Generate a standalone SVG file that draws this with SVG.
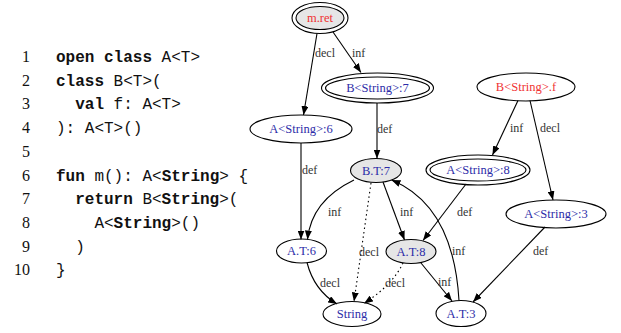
<svg xmlns="http://www.w3.org/2000/svg" width="621" height="333" viewBox="0 0 621 333">
  <style>
    .ln { font-family: "Liberation Serif", serif; font-size: 16px; fill: #111; text-anchor: end; }
    .code { font-family: "Liberation Mono", monospace; font-size: 16px; fill: #111; }
    .kw { font-weight: bold; }
    .node ellipse { fill: none; stroke: #000; stroke-width: 1.1; }
    .node ellipse.filled { fill: #e6e6e6; }
    .node text { font-family: "Liberation Serif", serif; font-size: 12.5px; text-anchor: middle; fill: #2c2ca8; }
    .node text.red { fill: #f03232; }
    .edges path { fill: none; stroke: #000; stroke-width: 1.1; marker-end: url(#arrow); }
    .edges path.dot { stroke-dasharray: 1.5 3; }
    .edges text { font-family: "Liberation Serif", serif; font-size: 12px; fill: #333; }
  </style>
  <defs>
    <marker id="arrow" markerUnits="userSpaceOnUse" markerWidth="9" markerHeight="7" refX="9" refY="3.5" orient="auto">
      <path d="M0,0 L9,3.5 L0,7 z" fill="#000"/>
    </marker>
  </defs>
  <rect width="621" height="333" fill="#fff"/>

  <!-- source listing -->
  <g id="listing">
    <text class="ln" x="30" y="62">1</text>
    <text class="ln" x="30" y="85.7">2</text>
    <text class="ln" x="30" y="109.4">3</text>
    <text class="ln" x="30" y="133.1">4</text>
    <text class="ln" x="30" y="156.8">5</text>
    <text class="ln" x="30" y="180.5">6</text>
    <text class="ln" x="30" y="204.2">7</text>
    <text class="ln" x="30" y="227.9">8</text>
    <text class="ln" x="30" y="251.6">9</text>
    <text class="ln" x="30" y="275.3">10</text>

    <text class="code" x="56" y="62" xml:space="preserve"><tspan class="kw">open class</tspan> A&lt;T&gt;</text>
    <text class="code" x="56" y="85.7" xml:space="preserve"><tspan class="kw">class</tspan> B&lt;T&gt;(</text>
    <text class="code" x="75.2" y="109.4" xml:space="preserve"><tspan class="kw">val</tspan> f: A&lt;T&gt;</text>
    <text class="code" x="56" y="133.1">): A&lt;T&gt;()</text>
    <text class="code" x="56" y="180.5" xml:space="preserve"><tspan class="kw">fun</tspan> m(): A&lt;<tspan class="kw">String</tspan>&gt; {</text>
    <text class="code" x="75.2" y="204.2" xml:space="preserve"><tspan class="kw">return</tspan> B&lt;<tspan class="kw">String</tspan>&gt;(</text>
    <text class="code" x="94.4" y="227.9">A&lt;<tspan class="kw">String</tspan>&gt;()</text>
    <text class="code" x="75.2" y="251.6">)</text>
    <text class="code" x="56" y="275.3">}</text>
  </g>

  <!-- connectors -->
  <g id="edges" class="edges">
    <path d="M317,33.5 L303.5,115"/>
    <text x="315" y="57">decl</text>
    <path d="M333,32 L361,72.5"/>
    <text x="352" y="57">inf</text>
    <path d="M377,103 L377,158.5"/>
    <text x="377" y="133">def</text>
    <path d="M301,143 L301,239.5"/>
    <text x="302" y="174">def</text>
    <path d="M354,180 C 325,194 310,214 307.5,239.5"/>
    <text x="328" y="216">inf</text>
    <path d="M383,182 L404.5,240"/>
    <text x="400" y="216">inf</text>
    <path class="dot" d="M371,183 L354,301.5"/>
    <text x="359" y="256">decl</text>
    <path d="M466,184 L423,240.5"/>
    <text x="457" y="216">def</text>
    <path d="M459,300.5 C 456,250 440,200 391.5,180"/>
    <text x="452" y="255">inf</text>
    <path d="M421,263 L452,301"/>
    <text x="438" y="286">inf</text>
    <path class="dot" d="M403,263 C 395,280 380,293 364,303.5"/>
    <text x="385" y="287">decl</text>
    <path d="M307,262.5 C 312,282 322,295 337,304"/>
    <text x="320" y="287">decl</text>
    <path d="M518,100.5 L492.5,155"/>
    <text x="510" y="132">inf</text>
    <path d="M530,100.5 L553,200"/>
    <text x="540" y="132">decl</text>
    <path d="M545,227 L473,302"/>
    <text x="533" y="255">def</text>
  </g>

  <!-- nodes -->
  <g id="m_ret" class="node">
    <ellipse cx="320" cy="18" rx="28" ry="15.5"/>
    <ellipse class="filled" cx="320" cy="18" rx="24" ry="11.5"/>
    <text class="red" x="320" y="22">m.ret</text>
  </g>
  <g id="B_String_7" class="node">
    <ellipse cx="377.5" cy="88" rx="56" ry="15"/>
    <ellipse cx="377.5" cy="88" rx="52" ry="11"/>
    <text x="377.5" y="92">B&lt;String&gt;:7</text>
  </g>
  <g id="A_String_6" class="node">
    <ellipse cx="301" cy="129" rx="51" ry="14"/>
    <text x="301" y="133">A&lt;String&gt;:6</text>
  </g>
  <g id="B_String_f" class="node">
    <ellipse cx="526" cy="87" rx="49" ry="14"/>
    <text class="red" x="526" y="91">B&lt;String&gt;.f</text>
  </g>
  <g id="A_String_8" class="node">
    <ellipse cx="478" cy="170" rx="52" ry="15"/>
    <ellipse cx="478" cy="170" rx="48" ry="11"/>
    <text x="478" y="174">A&lt;String&gt;:8</text>
  </g>
  <g id="A_String_3" class="node">
    <ellipse cx="556" cy="214" rx="50" ry="14"/>
    <text x="556" y="218">A&lt;String&gt;:3</text>
  </g>
  <g id="B_T_7" class="node">
    <ellipse class="filled" cx="376" cy="170.5" rx="25.5" ry="12"/>
    <text x="376" y="174.5">B.T:7</text>
  </g>
  <g id="A_T_6" class="node">
    <ellipse cx="301.5" cy="251" rx="25" ry="12"/>
    <text x="301.5" y="255">A.T:6</text>
  </g>
  <g id="A_T_8" class="node">
    <ellipse class="filled" cx="411" cy="251.5" rx="25" ry="12"/>
    <text x="411" y="255.5">A.T:8</text>
  </g>
  <g id="String" class="node">
    <ellipse cx="352" cy="314" rx="29" ry="12.5"/>
    <text x="352" y="318">String</text>
  </g>
  <g id="A_T_3" class="node">
    <ellipse cx="461" cy="313.5" rx="25" ry="13"/>
    <text x="461" y="317.5">A.T:3</text>
  </g>
</svg>
